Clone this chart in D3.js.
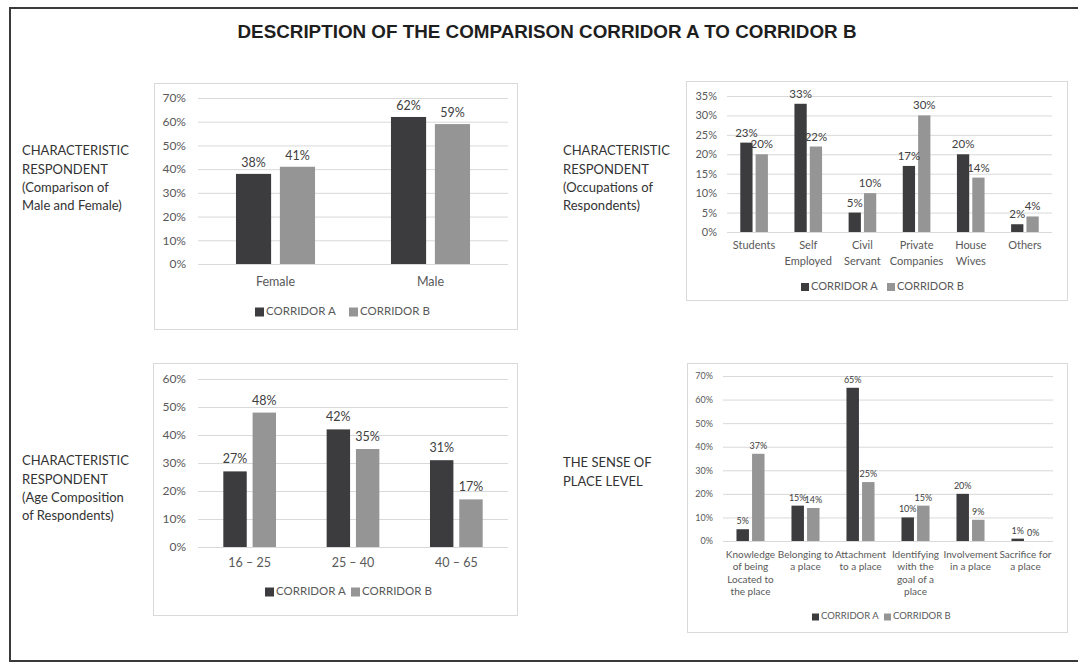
<!DOCTYPE html>
<html>
<head>
<meta charset="utf-8">
<script src="https://cdn.jsdelivr.net/npm/d3@7"></script>
<style>
  html, body { margin: 0; padding: 0; background: #fff; }
  svg { display: block; }
</style>
</head>
<body>
<svg id="chart" width="1078" height="662"></svg>
<script>
// ---- Data ----
const seriesNames = ["CORRIDOR A", "CORRIDOR B"];

const genderCategories = ["Female", "Male"];
const genderA = [38, 62];
const genderB = [41, 59];
const genderTicks = [0, 10, 20, 30, 40, 50, 60, 70];

const occupationCategories = ["Students", "Self\nEmployed", "Civil\nServant", "Private\nCompanies", "House\nWives", "Others"];
const occupationA = [23, 33, 5, 17, 20, 2];
const occupationB = [20, 22, 10, 30, 14, 4];
const occupationTicks = [0, 5, 10, 15, 20, 25, 30, 35];

const ageCategories = ["16 \u2013 25", "25 \u2013 40", "40 \u2013 65"];
const ageA = [27, 42, 31];
const ageB = [48, 35, 17];
const ageTicks = [0, 10, 20, 30, 40, 50, 60];

const senseCategories = [
  "Knowledge\nof being\nLocated to\nthe place",
  "Belonging to\na place",
  "Attachment\nto a place",
  "Identifying\nwith the\ngoal of a\nplace",
  "Involvement\nin a place",
  "Sacrifice for\na place"
];
const senseA = [5, 15, 65, 10, 20, 1];
const senseB = [37, 14, 25, 15, 9, 0];
const senseTicks = [0, 10, 20, 30, 40, 50, 60, 70];

const titleText = "DESCRIPTION OF THE COMPARISON CORRIDOR A TO CORRIDOR B";
const sideLabels = [
  { lines: ["CHARACTERISTIC", "RESPONDENT", "(Comparison of", "Male and Female)"], x: 22, y: 152 },
  { lines: ["CHARACTERISTIC", "RESPONDENT", "(Occupations of", "Respondents)"], x: 563, y: 152 },
  { lines: ["CHARACTERISTIC", "RESPONDENT", "(Age Composition", "of Respondents)"], x: 22, y: 462 },
  { lines: ["THE SENSE OF", "PLACE LEVEL"], x: 563, y: 464 }
];

// ---- Styling ----
const FONT = "Lato, 'Open Sans', sans-serif";
const colorA = "#3c3c3e";
const colorB = "#959595";
const gridColor = "#d9d9d9";
const tickColor = "#595959";
const labelColor = "#404040";

const svg = d3.select("#chart");

// Outer frame
svg.append("rect")
  .attr("x", 10).attr("y", 8)
  .attr("width", 1100).attr("height", 653)
  .attr("fill", "none").attr("stroke", "#3a3a3a").attr("stroke-width", 2);

// Title
svg.append("text")
  .attr("x", 547).attr("y", 38)
  .attr("text-anchor", "middle")
  .attr("font-family", "'Liberation Sans Narrow', 'Liberation Sans', sans-serif")
  .attr("font-weight", "bold")
  .attr("font-size", 18.5)
  .attr("fill", "#1e1e1e")
  .attr("textLength", 619)
  .attr("lengthAdjust", "spacingAndGlyphs")
  .text(titleText);

// Side labels
sideLabels.forEach(s => {
  const t = svg.append("text")
    .attr("font-family", FONT)
    .attr("font-size", 13)
    .attr("fill", "#333");
  s.lines.forEach((ln, i) => {
    t.append("tspan").attr("x", s.x).attr("y", s.y + i * 18.3)
      .attr("dominant-baseline", "middle").text(ln);
  });
});

function drawPanel(cfg) {
  const g = svg.append("g");
  // panel frame
  g.append("rect")
    .attr("x", cfg.box[0] + 0.5).attr("y", cfg.box[1] + 0.5)
    .attr("width", cfg.box[2] - cfg.box[0]).attr("height", cfg.box[3] - cfg.box[1])
    .attr("fill", "#fff").attr("stroke", gridColor).attr("stroke-width", 1);

  const [left, right, top, bottom] = cfg.plot;
  const y = d3.scaleLinear().domain([0, d3.max(cfg.ticks)]).range([bottom, top]);
  const x0 = d3.scaleBand().domain(cfg.categories).range([left, right]).paddingInner(0).paddingOuter(0);
  const bw = x0.bandwidth();
  const groupW = bw * 0.51;
  const x1 = d3.scaleBand().domain(seriesNames)
    .range([(bw - groupW) / 2, (bw + groupW) / 2]).paddingInner(0.2);

  // gridlines + y tick labels via d3 axis
  const yAxis = d3.axisLeft(y).tickValues(cfg.ticks).tickSize(-(right - left))
    .tickFormat(d => d + "%").tickPadding(cfg.tickPad);
  const ya = g.append("g").attr("transform", `translate(${left},0)`).call(yAxis);
  ya.select(".domain").remove();
  ya.selectAll(".tick line").attr("stroke", gridColor).attr("stroke-width", 1);
  ya.selectAll(".tick text")
    .attr("font-family", FONT).attr("font-size", cfg.tickSize).attr("fill", tickColor);

  // bars
  const rows = cfg.categories.map((c, i) => ({ cat: c, vals: [cfg.a[i], cfg.b[i]] }));
  const grp = g.selectAll(".grp").data(rows).join("g")
    .attr("transform", d => `translate(${x0(d.cat)},0)`);
  grp.selectAll("rect").data(d => d.vals.map((v, j) => ({ s: seriesNames[j], v })))
    .join("rect")
    .attr("x", d => x1(d.s)).attr("width", x1.bandwidth())
    .attr("y", d => y(d.v)).attr("height", d => bottom - y(d.v))
    .attr("fill", d => d.s === seriesNames[0] ? colorA : colorB);
  grp.selectAll("text.val").data(d => d.vals.map((v, j) => ({ s: seriesNames[j], v })))
    .join("text").attr("class", "val")
    .attr("x", d => x1(d.s) + x1.bandwidth() / 2)
    .attr("y", d => y(d.v) - cfg.labelOffset)
    .attr("text-anchor", "middle")
    .attr("font-family", FONT).attr("font-size", cfg.valSize).attr("fill", labelColor)
    .text(d => d.v + "%");

  // baseline
  g.append("line").attr("x1", left).attr("x2", right)
    .attr("y1", bottom + 0.5).attr("y2", bottom + 0.5)
    .attr("stroke", gridColor);

  // category labels
  cfg.categories.forEach(c => {
    const t = g.append("text")
      .attr("text-anchor", "middle")
      .attr("font-family", FONT).attr("font-size", cfg.catSize).attr("fill", tickColor);
    c.split("\n").forEach((ln, i) => {
      t.append("tspan").attr("x", x0(c) + bw / 2)
        .attr("y", bottom + cfg.catOffset + i * cfg.catLine)
        .attr("dominant-baseline", "middle").text(ln);
    });
  });

  // legend
  const lg = g.append("g");
  seriesNames.forEach((s, i) => {
    const lx = cfg.legend[i];
    lg.append("rect").attr("x", lx).attr("y", cfg.legendY - cfg.legSq / 2)
      .attr("width", cfg.legSq).attr("height", cfg.legSq)
      .attr("fill", i === 0 ? colorA : colorB);
    lg.append("text").attr("x", lx + cfg.legSq + 2).attr("y", cfg.legendY)
      .attr("dominant-baseline", "middle")
      .attr("font-family", FONT).attr("font-size", cfg.legSize).attr("fill", tickColor)
      .text(s);
  });
}

drawPanel({
  box: [154, 83, 517, 329], plot: [198, 508, 98, 264],
  categories: genderCategories, a: genderA, b: genderB, ticks: genderTicks,
  tickSize: 12, tickPad: 12, valSize: 12.5, labelOffset: 7,
  catSize: 12.5, catOffset: 19, catLine: 15,
  legend: [255, 349], legendY: 312, legSq: 9, legSize: 11.5
});

drawPanel({
  box: [686, 81, 1067, 300], plot: [727, 1052, 96, 232],
  categories: occupationCategories, a: occupationA, b: occupationB, ticks: occupationTicks,
  tickSize: 11, tickPad: 10, valSize: 11.5, labelOffset: 6,
  catSize: 11, catOffset: 14, catLine: 16,
  legend: [801, 887], legendY: 287, legSq: 8, legSize: 11
});

drawPanel({
  box: [153, 363, 517, 615], plot: [198, 508, 379, 547],
  categories: ageCategories, a: ageA, b: ageB, ticks: ageTicks,
  tickSize: 12, tickPad: 12, valSize: 12.5, labelOffset: 8,
  catSize: 12.5, catOffset: 17, catLine: 15,
  legend: [265, 351], legendY: 592, legSq: 9, legSize: 11.5
});

drawPanel({
  box: [687, 363, 1067, 632], plot: [723, 1053, 376, 541],
  categories: senseCategories, a: senseA, b: senseB, ticks: senseTicks,
  tickSize: 9, tickPad: 10, valSize: 9, labelOffset: 5,
  catSize: 10, catOffset: 14, catLine: 12.5,
  legend: [812, 884], legendY: 617, legSq: 7, legSize: 9.5
});
</script>
</body>
</html>
